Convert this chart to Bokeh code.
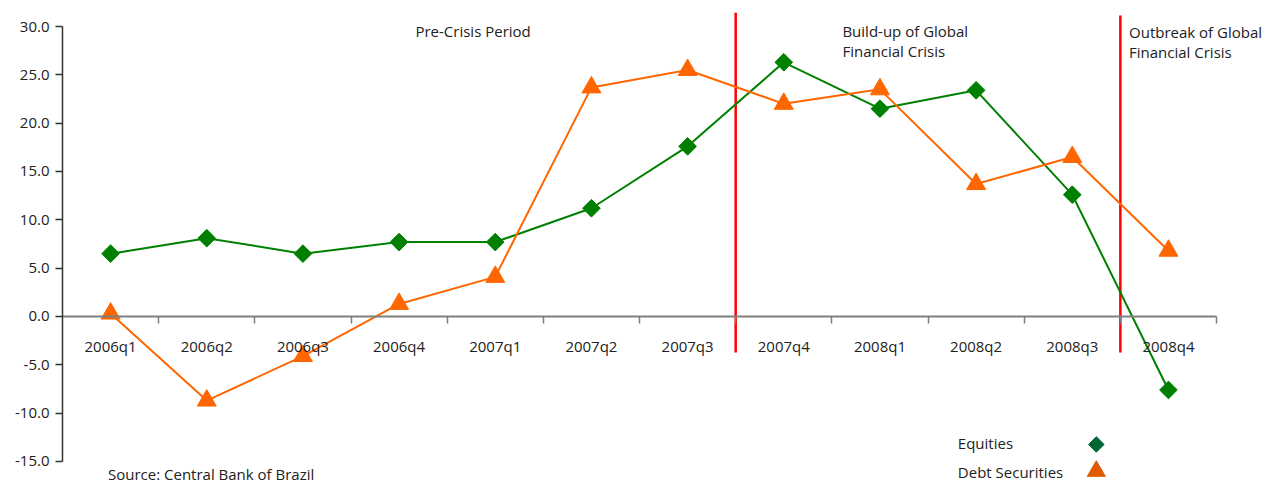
import math
from bokeh.plotting import figure
from bokeh.models import (ColumnDataSource, Range1d, SingleIntervalTicker, FixedTicker,
                          NumeralTickFormatter, Label)
from bokeh.embed import file_html
from bokeh.resources import INLINE

# ---- data -------------------------------------------------------------
quarters = ["2006q1", "2006q2", "2006q3", "2006q4", "2007q1", "2007q2",
            "2007q3", "2007q4", "2008q1", "2008q2", "2008q3", "2008q4"]
equities = [6.5, 8.1, 6.5, 7.7, 7.7, 11.2, 17.6, 26.3, 21.5, 23.4, 12.6, -7.6]
debt_securities = [0.3, -8.7, -4.1, 1.3, 4.1, 23.7, 25.5, 22.0, 23.5, 13.7, 16.5, 6.8]
period_starts = ["2007q4", "2008q4"]
series_names = ["Equities", "Debt Securities"]
source_note = "Source: Central Bank of Brazil"

# ---- styles -----------------------------------------------------------
FONT = "Open Sans"
TXT = "#222222"
GREEN = "#008000"
ORANGE = "#ff6600"

# category slots: each quarter occupies one unit, centred at i + 0.5
centers = [i + 0.5 for i in range(len(quarters))]
boundaries = list(range(0, len(quarters) + 1))

src = ColumnDataSource(dict(x=centers, q=quarters, eq=equities, debt=debt_securities))

p = figure(width=1267, height=483,
           x_range=Range1d(0, 12.53),
           y_range=Range1d(-17.28, 31.45),
           output_backend="svg", toolbar_location=None, title=None,
           min_border_left=62, min_border_right=0,
           min_border_top=12, min_border_bottom=0)
p.outline_line_color = None
p.grid.visible = False
p.background_fill_color = "white"
p.border_fill_color = "white"

# y axis
ya = p.yaxis[0]
ya.bounds = (-15, 30)
ya.ticker = SingleIntervalTicker(interval=5, num_minor_ticks=0)
ya.formatter = NumeralTickFormatter(format="0.0")
ya.major_tick_out = 7
ya.major_tick_in = 0
ya.minor_tick_out = 0
ya.minor_tick_in = 0
ya.axis_line_color = "#333333"
ya.axis_line_width = 1.5
ya.major_tick_line_color = "#333333"
ya.major_tick_line_width = 1.5
ya.major_label_standoff = 6
ya.major_label_text_font = FONT
ya.major_label_text_font_size = "15px"
ya.major_label_text_color = TXT

# x axis drawn at y = 0: labels at slot centres, ticks at slot boundaries
xa = p.xaxis[0]
xa.fixed_location = 0
xa.bounds = (0, len(quarters))
xa.ticker = FixedTicker(ticks=centers, minor_ticks=boundaries[1:])
xa.major_label_overrides = {c: q for c, q in zip(centers, quarters)}
xa.major_tick_out = 0
xa.major_tick_in = 0
xa.minor_tick_out = 7
xa.minor_tick_in = 0
xa.minor_tick_line_color = "#7f7f7f"
xa.minor_tick_line_width = 1.5
xa.axis_line_color = "#7f7f7f"
xa.axis_line_width = 2
xa.major_label_standoff = 13
xa.major_label_text_font = FONT
xa.major_label_text_font_size = "15px"
xa.major_label_text_color = TXT

# period separators
sep_x = [quarters.index(b) for b in period_starts]
p.segment(x0=sep_x, y0=[-3.72, -3.72], x1=sep_x, y1=[31.45, 31.14],
          line_color="#ff0000", line_width=2.5)

# series
p.line(x="x", y="eq", source=src, line_color=GREEN, line_width=2)
p.scatter(x="x", y="eq", source=src, marker="square", angle=math.pi / 4, size=12.5,
          fill_color=GREEN, line_color=GREEN)
p.line(x="x", y="debt", source=src, line_color=ORANGE, line_width=2)
p.scatter(x="x", y="debt", source=src, marker="triangle", size=19,
          fill_color=ORANGE, line_color=ORANGE)

# legend swatches (label left, marker right)
p.scatter(x=[10.75], y=[-13.24], marker="square", angle=math.pi / 4, size=11,
          fill_color="#006633", line_color="#006633")
p.scatter(x=[10.75], y=[-16.0], marker="triangle", size=18,
          fill_color="#e05a00", line_color="#e05a00")


def lab(x, y, text):
    p.add_layout(Label(x=x, y=y, text=text, text_font=FONT, text_font_size="15px",
                       text_color=TXT, text_baseline="alphabetic", text_align="left"))


lab(3.67, 29.54, "Pre-Crisis Period")
lab(8.11, 29.54, "Build-up of Global")
lab(8.11, 27.47, "Financial Crisis")
lab(11.09, 29.48, "Outbreak of Global")
lab(11.09, 27.38, "Financial Crisis")
lab(9.31, -13.10, series_names[0])
lab(9.31, -16.05, series_names[1])
lab(0.473, -16.31, source_note)

open("out.html", "w").write(file_html(p, INLINE))
